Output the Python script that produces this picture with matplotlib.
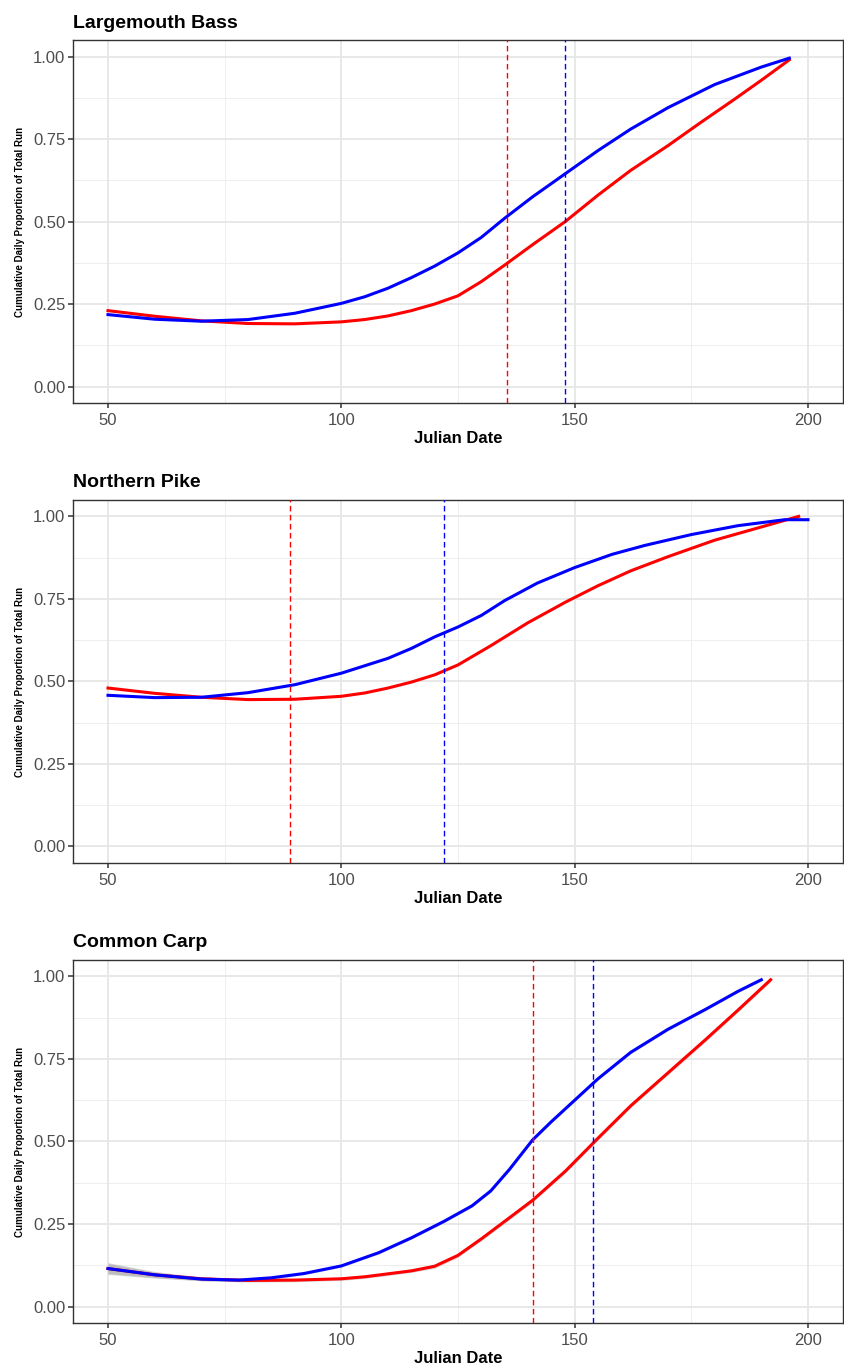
import matplotlib
matplotlib.use("Agg")
import matplotlib.pyplot as plt

plt.rcParams['font.family'] = ['Liberation Sans', 'DejaVu Sans']

# Largemouth Bass
bass_red_x = [50, 60, 70, 80, 90, 100, 105, 110, 115, 120, 125, 130, 135, 141, 148, 155, 162, 170, 177, 184, 190, 196]
bass_red_y = [0.23, 0.213, 0.199, 0.191, 0.19, 0.196, 0.203, 0.214, 0.23, 0.25, 0.275, 0.318, 0.368, 0.43, 0.50, 0.58, 0.655, 0.73, 0.80, 0.868, 0.928, 0.99]
bass_blue_x = [50, 60, 70, 80, 90, 100, 105, 110, 115, 120, 125, 130, 135, 141, 148, 155, 162, 170, 180, 190, 196]
bass_blue_y = [0.218, 0.204, 0.198, 0.203, 0.222, 0.252, 0.272, 0.298, 0.33, 0.365, 0.405, 0.452, 0.51, 0.575, 0.645, 0.715, 0.78, 0.845, 0.915, 0.968, 0.995]
bass_vlines = [135.5, 148]

# Northern Pike
pike_red_x = [50, 60, 70, 80, 90, 100, 105, 110, 115, 120, 125, 132, 140, 148, 155, 162, 170, 180, 190, 198]
pike_red_y = [0.48, 0.464, 0.452, 0.445, 0.446, 0.455, 0.465, 0.48, 0.498, 0.52, 0.55, 0.608, 0.678, 0.74, 0.79, 0.835, 0.878, 0.928, 0.968, 1.0]
pike_blue_x = [50, 60, 70, 80, 90, 100, 110, 115, 120, 125, 130, 135, 142, 150, 158, 165, 175, 185, 195, 200]
pike_blue_y = [0.458, 0.451, 0.452, 0.466, 0.49, 0.525, 0.57, 0.60, 0.635, 0.665, 0.70, 0.745, 0.798, 0.845, 0.885, 0.912, 0.945, 0.972, 0.99, 0.99]
pike_vlines = [89, 122]

# Common Carp
carp_red_x = [50, 60, 70, 80, 90, 100, 105, 110, 115, 120, 125, 130, 135, 141, 148, 155, 162, 170, 178, 185, 192]
carp_red_y = [0.115, 0.096, 0.084, 0.079, 0.080, 0.084, 0.09, 0.099, 0.108, 0.122, 0.155, 0.205, 0.258, 0.322, 0.41, 0.51, 0.608, 0.708, 0.808, 0.898, 0.99]
carp_red_se = [0.018, 0.01, 0.006, 0.005, 0.005, 0.005, 0.005, 0.005, 0.005, 0.006, 0.006, 0.006, 0.006, 0.006, 0.006, 0.006, 0.006, 0.006, 0.006, 0.006, 0.006]
carp_blue_x = [50, 60, 70, 78, 85, 92, 100, 108, 115, 122, 128, 132, 136, 141, 145, 150, 155, 162, 170, 178, 185, 190]
carp_blue_y = [0.115, 0.096, 0.083, 0.08, 0.087, 0.10, 0.123, 0.163, 0.208, 0.258, 0.305, 0.35, 0.415, 0.505, 0.56, 0.625, 0.69, 0.77, 0.84, 0.90, 0.955, 0.99]
carp_blue_se = [0.015, 0.008, 0.005, 0.004, 0.004, 0.004, 0.004, 0.004, 0.004, 0.004, 0.004, 0.004, 0.004, 0.004, 0.004, 0.004, 0.004, 0.004, 0.004, 0.004, 0.004, 0.004]
carp_vlines = [141, 154]

titles = ['Largemouth Bass', 'Northern Pike', 'Common Carp']
x_ticks = [50, 100, 150, 200]
y_ticks = [0.0, 0.25, 0.5, 0.75, 1.0]
y_tick_labels = ['0.00', '0.25', '0.50', '0.75', '1.00']

panels = [
    (bass_red_x, bass_red_y, None, bass_blue_x, bass_blue_y, None, bass_vlines),
    (pike_red_x, pike_red_y, None, pike_blue_x, pike_blue_y, None, pike_vlines),
    (carp_red_x, carp_red_y, carp_red_se, carp_blue_x, carp_blue_y, carp_blue_se, carp_vlines),
]

fig = plt.figure(figsize=(8.44, 13.70), dpi=100)
bottoms = [0.7058, 0.3701, 0.0343]
left, width, height = 0.0865, 0.9123, 0.265

for i, (rx, ry, rse, bx, by, bse, vl) in enumerate(panels):
    ax = fig.add_axes([left, bottoms[i], width, height])
    ax.set_xlim(42.5, 207.5)
    ax.set_ylim(-0.05, 1.05)

    # grid, theme_bw style
    for v in [75, 125, 175]:
        ax.axvline(v, color='#EBEBEB', lw=0.6, zorder=0)
    for v in [0.125, 0.375, 0.625, 0.875]:
        ax.axhline(v, color='#EBEBEB', lw=0.6, zorder=0)
    for v in x_ticks:
        ax.axvline(v, color='#E6E6E6', lw=1.3, zorder=0)
    for v in y_ticks:
        ax.axhline(v, color='#E6E6E6', lw=1.3, zorder=0)

    if rse is not None:
        ax.fill_between(rx, [a - s for a, s in zip(ry, rse)], [a + s for a, s in zip(ry, rse)],
                        color='#999999', alpha=0.4, lw=0, zorder=1)
        ax.fill_between(bx, [a - s for a, s in zip(by, bse)], [a + s for a, s in zip(by, bse)],
                        color='#999999', alpha=0.4, lw=0, zorder=1)

    ax.plot(rx, ry, color='#FF0000', lw=2.2, zorder=3, solid_joinstyle='round')
    ax.plot(bx, by, color='#0000FF', lw=2.2, zorder=4, solid_joinstyle='round')
    ax.axvline(vl[0], color='#FF0000', lw=1.0, ls=(0, (4, 2.5)), zorder=5)
    ax.axvline(vl[1], color='#0000FF', lw=1.0, ls=(0, (4, 2.5)), zorder=5)

    ax.set_xticks(x_ticks)
    ax.set_yticks(y_ticks)
    ax.set_yticklabels(y_tick_labels)
    ax.tick_params(axis='both', direction='out', length=3.5, width=1.1, color='#333333',
                   labelsize=12, labelcolor='#4D4D4D')
    ax.tick_params(axis='x', pad=4)
    ax.tick_params(axis='y', pad=2)
    for s in ax.spines.values():
        s.set_color('#333333')
        s.set_linewidth(1.0)

    ax.set_xlabel('Julian Date', fontsize=12, fontweight='bold', labelpad=2)
    ax.set_ylabel('Cumulative Daily Proportion of Total Run', fontsize=7, fontweight='bold', labelpad=6)
    ax.set_title(titles[i], loc='left', fontsize=14, fontweight='bold', pad=9)

fig.savefig('out.png', dpi=100)
